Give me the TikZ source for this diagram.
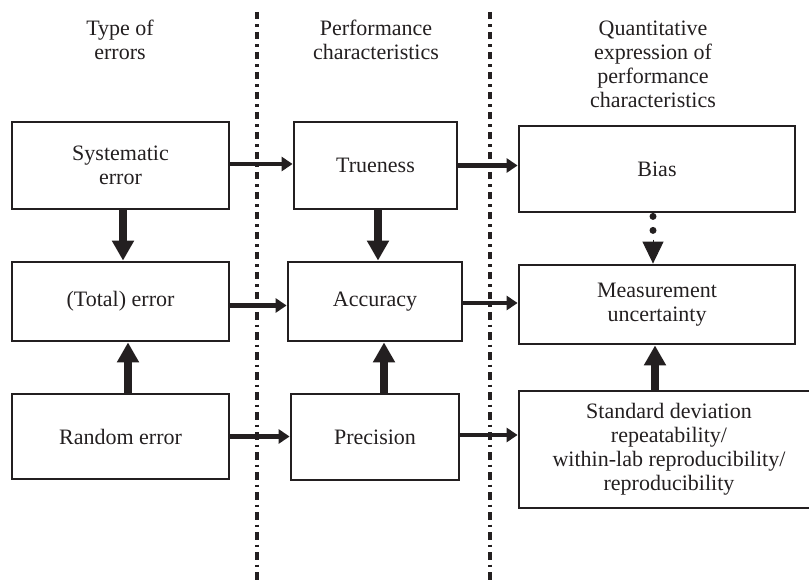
\documentclass[tikz,border=0pt]{standalone}
\usepackage{fontspec}
\setmainfont{Liberation Serif}
\usetikzlibrary{arrows.meta}
\definecolor{ink}{RGB}{35,31,32}
\begin{document}
\begin{tikzpicture}[x=1pt,y=-1pt,
  every node/.style={font=\fontsize{22}{24}\selectfont, text=ink},
  box/.style={draw=ink, line width=2.8pt, align=center, inner sep=0pt},
  heading/.style={anchor=base, inner sep=0pt},
  harrow/.style={draw=ink, line width=4.8pt, -{Triangle[length=11pt,width=14pt]}},
  varrow/.style={draw=ink, line width=8pt, -{Triangle[length=20pt,width=21pt]}},
  divider/.style={draw=ink, line width=3.6pt, dash pattern=on 7.5pt off 5pt on 2.5pt off 5pt},
  dotline/.style={draw=ink, line width=7pt, line cap=round, dash pattern=on 0pt off 14pt}
]
\useasboundingbox (0,0) rectangle (809,580);

% column separators
\coordinate (s1a) at (257,12);
\coordinate (s1b) at (257,582);
\coordinate (s2a) at (490,12);
\coordinate (s2b) at (490,582);
\draw[divider] (s1a) -- (s1b);
\draw[divider] (s2a) -- (s2b);

% column headings
\node[heading] (h1) at (120,36) {\begin{tabular}[t]{@{}c@{}}Type of\\errors\end{tabular}};
\node[heading] (h2) at (376,36) {\begin{tabular}[t]{@{}c@{}}Performance\\characteristics\end{tabular}};
\node[heading] (h3) at (653,36) {\begin{tabular}[t]{@{}c@{}}Quantitative\\expression of\\performance\\characteristics\end{tabular}};

% type of errors
\node[box, minimum width=217pt, minimum height=87pt] (sys) at (120.5,165.5) {Systematic\\error};
\node[box, minimum width=217pt, minimum height=79pt] (tot) at (120.5,301.5) {(Total) error};
\node[box, minimum width=217pt, minimum height=85pt] (rnd) at (120.5,436.5) {Random error};

% performance characteristics
\node[box, minimum width=163pt, minimum height=87pt] (tru) at (375.5,165.5) {Trueness};
\node[box, minimum width=174pt, minimum height=79pt] (acc) at (375,301.5) {Accuracy};
\node[box, minimum width=168pt, minimum height=86pt] (pre) at (375,437) {Precision};

% quantitative expressions
\node[box, minimum width=276pt, minimum height=86pt] (bias) at (657,169) {Bias};
\node[box, minimum width=276pt, minimum height=79pt] (mu) at (657,304.5) {Measurement\\uncertainty};
\node[box, minimum width=300pt, minimum height=117pt] (sd) at (669,449.5)
  {Standard deviation\\repeatability/\\within-lab reproducibility/\\reproducibility};

% horizontal links
\draw[harrow] ([yshift=1.5pt]sys.east) -- ([yshift=1.5pt]sys.east -| tru.west);
\draw[harrow] (tru.east) -- (tru.east -| bias.west);
\draw[harrow] ([yshift=-4pt]tot.east) -- ([yshift=-4pt]tot.east -| acc.west);
\draw[harrow] ([yshift=-1.5pt]acc.east) -- ([yshift=-1.5pt]acc.east -| mu.west);
\draw[harrow] (rnd.east) -- (rnd.east -| pre.west);
\draw[harrow] ([yshift=2pt]pre.east) -- ([yshift=2pt]pre.east -| sd.west);

% vertical links
\draw[varrow] ([xshift=2.5pt]sys.south) -- ([xshift=2.5pt]tot.north);
\draw[varrow] ([xshift=7.5pt]rnd.north) -- ([xshift=7.5pt]tot.south);
\draw[varrow] ([xshift=2.5pt]tru.south) -- ([xshift=2.5pt]tru.south |- acc.north);
\draw[varrow] ([xshift=9pt]pre.north) -- ([xshift=9pt]pre.north |- acc.south);
\draw[varrow] ([xshift=-2pt]mu.south |- sd.north) -- ([xshift=-2pt]mu.south);

% dotted link from bias to measurement uncertainty
\coordinate (dA) at ([xshift=-4pt,yshift=-3pt]bias.south);
\coordinate (dB) at ([xshift=-4pt,yshift=-31pt]bias.south);
\coordinate (dC) at ([xshift=-4pt,yshift=24pt]mu.north);
\draw[dotline] (dA) -- (dB);
\draw[draw=ink, line width=1pt, -{Triangle[length=22pt,width=21pt]}] (dC) -- ([xshift=-4pt]mu.north);
\end{tikzpicture}
\end{document}
